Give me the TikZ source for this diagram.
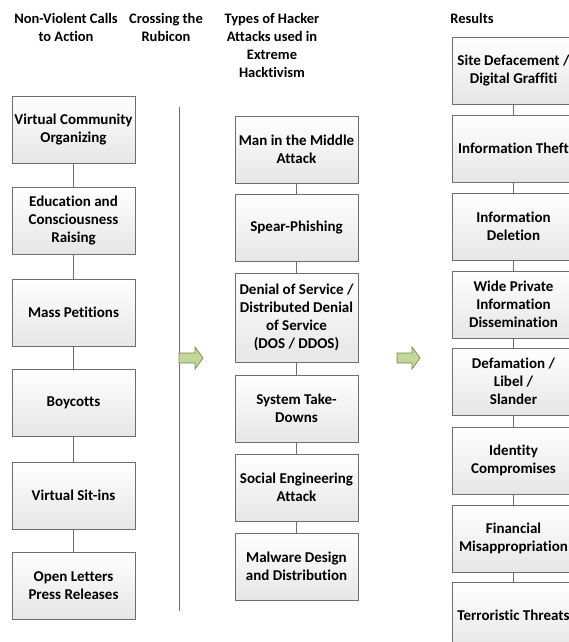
\documentclass[tikz,border=0pt]{standalone}
\usepackage{fontspec}
\setmainfont{Carlito}[Ligatures=NoCommon]
\usetikzlibrary{shadows}
\definecolor{boxline}{RGB}{110,110,110}
\definecolor{boxbot}{RGB}{230,230,230}
\definecolor{arrfill}{RGB}{195,214,155}
\definecolor{arrline}{RGB}{120,140,70}
\tikzset{
  stepbox/.style={draw=boxline, line width=0.9pt, top color=white, bottom color=boxbot,
    minimum width=123pt, minimum height=67pt, inner sep=1pt, align=center,
    font=\fontsize{15}{18}\selectfont\bfseries,
    drop shadow={shadow xshift=1.2pt, shadow yshift=-1.2pt, opacity=0.25, fill=black}},
  header/.style={align=center, inner sep=0pt, font=\fontsize{14.5}{18}\selectfont\bfseries},
  link/.style={draw=boxline, line width=0.9pt},
  greenarrow/.style={draw=arrline, fill=arrfill, line width=0.7pt, line join=miter}
}
\begin{document}
\begin{tikzpicture}[x=1pt,y=-1pt]
\clip (0,0) rectangle (569,642);
\fill[white] (0,0) rectangle (569,642);
% headers
\node[header] (h1) at (66,27) {Non-Violent Calls\\to Action};
\node[header] (h2) at (166,27) {Crossing the\\Rubicon};
\node[header] (h3) at (272,45) {Types of Hacker\\Attacks used in\\Extreme\\Hacktivism};
\node[header] (h4) at (472,18.5) {Results};
% column 1
\node[stepbox] (a1) at (73.5,129.5) {Virtual Community\\Organizing};
\node[stepbox] (a2) at (73.5,220.5) {Education and\\Consciousness\\Raising};
\node[stepbox] (a3) at (73.5,312.5) {Mass Petitions};
\node[stepbox] (a4) at (73.5,402.5) {Boycotts};
\node[stepbox] (a5) at (73.5,495.5) {Virtual Sit-ins};
\node[stepbox] (a6) at (73.5,585.5) {Open Letters\\Press Releases};
\foreach \i/\j in {a1/a2,a2/a3,a3/a4,a4/a5,a5/a6} \draw[link] (\i.south) -- (\j.north);
% column 2
\coordinate (r1) at (179,107);
\coordinate (r2) at (179,611);
\draw[link] (r1) -- (r2);
\draw[greenarrow] (179,353) -- (195,353) -- (195,347) -- (203,358) -- (195,369) -- (195,363) -- (179,363) -- cycle;
% column 3
\node[stepbox] (b1) at (296.5,149.5) {Man in the Middle\\Attack};
\node[stepbox] (b2) at (296.5,227.5) {Spear-Phishing};
\node[stepbox, minimum height=89pt] (b3) at (296.5,317.5) {Denial of Service /\\Distributed Denial\\of Service\\(DOS / DDOS)};
\node[stepbox] (b4) at (296.5,408.5) {System Take-\\Downs};
\node[stepbox] (b5) at (296.5,487.5) {Social Engineering\\Attack};
\node[stepbox] (b6) at (296.5,566.5) {Malware Design\\and Distribution};
\foreach \i/\j in {b1/b2,b2/b3,b3/b4,b4/b5,b5/b6} \draw[link] (\i.south) -- (\j.north);
\draw[greenarrow] (397,353) -- (412,353) -- (412,347) -- (420,358) -- (412,369) -- (412,363) -- (397,363) -- cycle;
% column 4
\node[stepbox] (c1) at (513.5,70.5) {Site Defacement /\\Digital Graffiti};
\node[stepbox] (c2) at (513.5,148.5) {Information Theft};
\node[stepbox] (c3) at (513.5,226.5) {Information\\Deletion};
\node[stepbox] (c4) at (513.5,304.5) {Wide Private\\Information\\Dissemination};
\node[stepbox] (c5) at (513.5,381.5) {Defamation /\\Libel /\\Slander};
\node[stepbox] (c6) at (513.5,460.5) {Identity\\Compromises};
\node[stepbox] (c7) at (513.5,538.5) {Financial\\Misappropriation};
\node[stepbox] (c8) at (513.5,615.5) {Terroristic Threats};
\foreach \i/\j in {c1/c2,c2/c3,c3/c4,c4/c5,c5/c6,c6/c7,c7/c8} \draw[link] (\i.south) -- (\j.north);
\end{tikzpicture}
\end{document}
